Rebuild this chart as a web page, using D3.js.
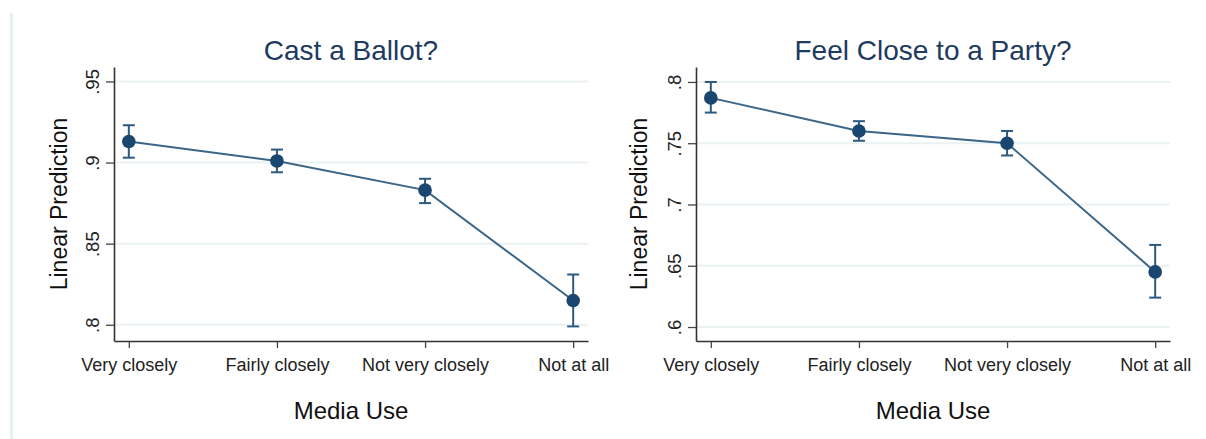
<!DOCTYPE html>
<html>
<head>
<meta charset="utf-8">
<script src="https://cdn.jsdelivr.net/npm/d3@7"></script>
<style>
  html, body { margin: 0; padding: 0; background: #fff; }
  svg { display: block; font-family: "Liberation Sans", Arial, Helvetica, sans-serif; }
</style>
</head>
<body>
<svg id="chart" width="1206" height="439"></svg>
<script>
// Media use categories (x axis)
const categories = ["Very closely", "Fairly closely", "Not very closely", "Not at all"];

// Cast a Ballot? — predicted values with 95% CI
const ballotMean  = [0.913, 0.901, 0.883, 0.815];
const ballotLower = [0.903, 0.894, 0.875, 0.799];
const ballotUpper = [0.923, 0.908, 0.890, 0.831];
const ballotTicks = [0.8, 0.85, 0.9, 0.95];
const ballotTickLabels = [".8", ".85", ".9", ".95"];

// Feel Close to a Party? — predicted values with 95% CI
const partyMean  = [0.787, 0.760, 0.750, 0.645];
const partyLower = [0.775, 0.752, 0.740, 0.624];
const partyUpper = [0.800, 0.768, 0.760, 0.667];
const partyTicks = [0.6, 0.65, 0.7, 0.75, 0.8];
const partyTickLabels = [".6", ".65", ".7", ".75", ".8"];

const panelTitles = ["Cast a Ballot?", "Feel Close to a Party?"];
const xTitle = "Media Use";
const yTitle = "Linear Prediction";

const svg = d3.select("#chart");

// faint frame line at the left edge of the graph region
svg.append("line")
  .attr("x1", 11.5).attr("x2", 11.5)
  .attr("y1", 13).attr("y2", 439)
  .attr("stroke", "#e6f0f2").attr("stroke-width", 3);

const panels = [
  { title: panelTitles[0], mean: ballotMean, lo: ballotLower, hi: ballotUpper,
    ticks: ballotTicks, tickLabels: ballotTickLabels, yDomain: [0.790, 0.9589],
    left: 114, right: 588, yTitleX: 67 },
  { title: panelTitles[1], mean: partyMean, lo: partyLower, hi: partyUpper,
    ticks: partyTicks, tickLabels: partyTickLabels, yDomain: [0.5886, 0.8122],
    left: 696, right: 1170, yTitleX: 647 }
];

const plotTop = 67, plotBottom = 341;
const navy = "#1a476f";

panels.forEach(p => {
  const x = d3.scaleLinear().domain([0.9, 4.1]).range([p.left, p.right]);
  const y = d3.scaleLinear().domain(p.yDomain).range([plotBottom, plotTop]);
  const g = svg.append("g");
  const idx = categories.map((c, i) => i + 1);

  // horizontal grid lines
  g.append("g").selectAll("line").data(p.ticks).join("line")
    .attr("x1", p.left).attr("x2", p.right)
    .attr("y1", d => y(d)).attr("y2", d => y(d))
    .attr("stroke", "#eaf2f3").attr("stroke-width", 2);

  // y axis
  const yAxis = d3.axisLeft(y).tickValues(p.ticks)
    .tickFormat((d, i) => p.tickLabels[i]).tickSize(8).tickSizeOuter(0);
  const ya = g.append("g").attr("transform", `translate(${p.left},0)`).call(yAxis);
  ya.attr("font-family", null).attr("font-size", null);
  ya.select(".domain").attr("stroke", "#333").attr("stroke-width", 1.6);
  ya.selectAll(".tick line").attr("stroke", "#444").attr("stroke-width", 1.3);
  ya.selectAll(".tick text")
    .attr("transform", "rotate(-90)")
    .attr("x", 0).attr("y", -15).attr("dy", 0)
    .attr("text-anchor", "middle")
    .attr("font-size", 18.5).attr("fill", "#222");

  // x axis
  const xAxis = d3.axisBottom(x).tickValues(idx)
    .tickFormat((d, i) => categories[i]).tickSize(7).tickSizeOuter(0);
  const xa = g.append("g").attr("transform", `translate(0,${plotBottom})`).call(xAxis);
  xa.attr("font-family", null).attr("font-size", null);
  xa.select(".domain").attr("stroke", "#333").attr("stroke-width", 1.6);
  xa.selectAll(".tick line").attr("stroke", "#444").attr("stroke-width", 1.3);
  xa.selectAll(".tick text")
    .attr("y", 30).attr("dy", 0)
    .attr("font-size", 18).attr("fill", "#222");

  // connecting line
  const line = d3.line().x((d, i) => x(i + 1)).y(d => y(d));
  g.append("path").datum(p.mean)
    .attr("d", line).attr("fill", "none")
    .attr("stroke", "#3b6688").attr("stroke-width", 2);

  // error bars with caps
  const eb = g.append("g").attr("stroke", "#2d5a80").attr("stroke-width", 2).attr("fill", "none");
  idx.forEach((k, i) => {
    const cx = x(k);
    eb.append("line").attr("x1", cx).attr("x2", cx).attr("y1", y(p.lo[i])).attr("y2", y(p.hi[i]));
    eb.append("line").attr("x1", cx - 6).attr("x2", cx + 6).attr("y1", y(p.lo[i])).attr("y2", y(p.lo[i]));
    eb.append("line").attr("x1", cx - 6).attr("x2", cx + 6).attr("y1", y(p.hi[i])).attr("y2", y(p.hi[i]));
  });

  // point markers
  g.append("g").selectAll("circle").data(p.mean).join("circle")
    .attr("cx", (d, i) => x(i + 1)).attr("cy", d => y(d))
    .attr("r", 6.8).attr("fill", navy);

  const cx = (p.left + p.right) / 2;
  // panel title
  g.append("text").attr("x", cx).attr("y", 60)
    .attr("text-anchor", "middle").attr("font-size", 28)
    .attr("fill", "#1e3a5f").text(p.title);

  // x axis title
  g.append("text").attr("x", cx).attr("y", 419)
    .attr("text-anchor", "middle").attr("font-size", 24)
    .attr("fill", "#111").text(xTitle);

  // y axis title
  g.append("text")
    .attr("transform", `translate(${p.yTitleX},${(plotTop + plotBottom) / 2}) rotate(-90)`)
    .attr("text-anchor", "middle").attr("font-size", 23)
    .attr("fill", "#111").text(yTitle);
});
</script>
</body>
</html>
